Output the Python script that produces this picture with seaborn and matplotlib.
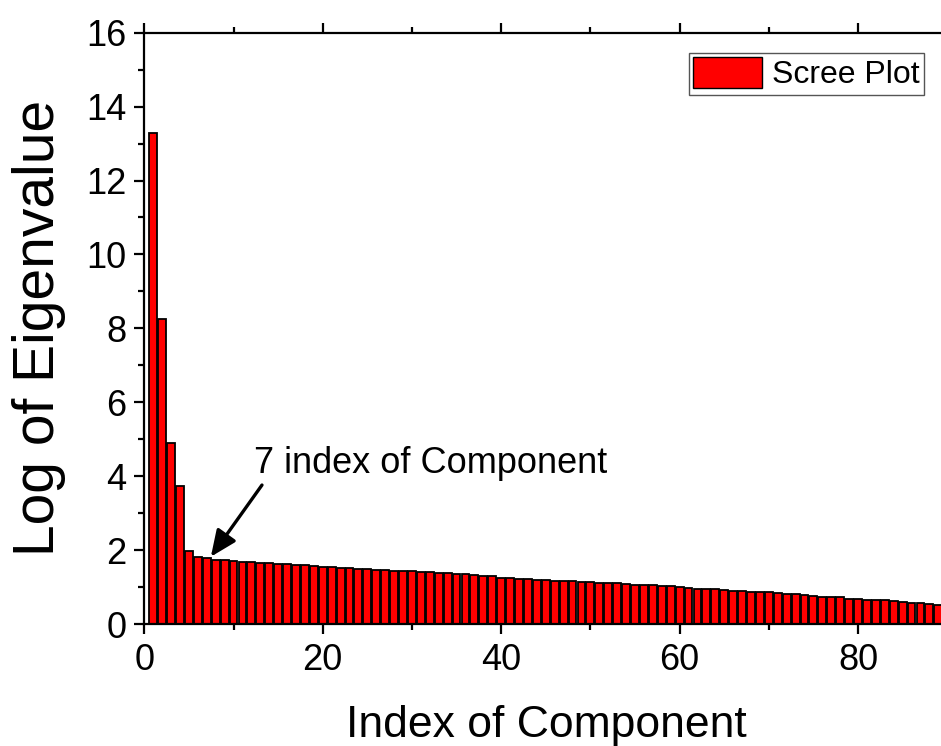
import matplotlib
matplotlib.use("Agg")
import matplotlib.pyplot as plt
from matplotlib.patches import Patch
import seaborn as sns
import pandas as pd

# ---- data ----
component_index = list(range(1, 90))
log_eigenvalue = [
    13.29, 8.24, 4.91, 3.74, 1.97, 1.81, 1.78, 1.74, 1.72, 1.71,
    1.69, 1.67, 1.65, 1.64, 1.63, 1.62, 1.60, 1.59, 1.57, 1.55,
    1.54, 1.52, 1.51, 1.50, 1.48, 1.47, 1.47, 1.44, 1.44, 1.43,
    1.42, 1.40, 1.38, 1.37, 1.35, 1.34, 1.32, 1.30, 1.29, 1.25,
    1.24, 1.22, 1.22, 1.20, 1.19, 1.17, 1.16, 1.16, 1.15, 1.14,
    1.12, 1.11, 1.10, 1.07, 1.06, 1.06, 1.05, 1.04, 1.03, 1.00,
    0.97, 0.96, 0.95, 0.94, 0.92, 0.90, 0.88, 0.87, 0.87, 0.86,
    0.83, 0.81, 0.80, 0.78, 0.76, 0.74, 0.73, 0.72, 0.69, 0.67,
    0.66, 0.65, 0.64, 0.62, 0.60, 0.57, 0.56, 0.53, 0.51,
]
series_label = "Scree Plot"
x_label = "Index of Component"
y_label = "Log of Eigenvalue"
annotation_text = "7 index of Component"
x_ticks = [0, 20, 40, 60, 80]
y_ticks = [0, 2, 4, 6, 8, 10, 12, 14, 16]

df = pd.DataFrame({"idx": component_index, "val": log_eigenvalue})

sns.set_style("ticks")
plt.rcParams["font.family"] = ["Liberation Sans", "DejaVu Sans"]
plt.rcParams["text.color"] = "black"
plt.rcParams["axes.labelcolor"] = "black"
plt.rcParams["xtick.color"] = "black"
plt.rcParams["ytick.color"] = "black"

W, H = 941, 746
fig = plt.figure(figsize=(W / 100, H / 100), dpi=100)
ax = fig.add_axes([144.3 / W, 1 - 624 / H, 1 - 144.3 / W, (624 - 32.7) / H])

sns.barplot(data=df, x="idx", y="val", native_scale=True, width=0.88,
            color="#ff0000", saturation=1, edgecolor="black", linewidth=1.3,
            ax=ax, legend=False)

ax.set_xlim(0, 89.3)
ax.set_ylim(0, 16)
ax.set_xticks(x_ticks)
ax.set_xticks([10, 30, 50, 70], minor=True)
ax.set_yticks(y_ticks)
ax.set_yticks(list(range(1, 16, 2)), minor=True)

for s in ["left", "bottom", "top"]:
    ax.spines[s].set_linewidth(1.6)
    ax.spines[s].set_color("black")
ax.spines["right"].set_visible(False)

ax.tick_params(axis="both", which="major", direction="out", length=7, width=1.6,
               labelsize=26, labelcolor="black")
ax.tick_params(axis="both", which="minor", direction="out", length=4, width=1.6)
ax.tick_params(axis="x", which="major", pad=7)
ax.tick_params(axis="y", which="major", pad=6)
ax.tick_params(axis="x", which="both", top=True, labeltop=False)

ax.set_xlabel(x_label, fontsize=32)
ax.set_ylabel(y_label, fontsize=41)
ax.xaxis.set_label_coords(0.505, -(736.7 - 624) / (624 - 32.7))
ax.xaxis.label.set_va("baseline")
ax.yaxis.set_label_coords((54 - 144.3) / (W - 144.3), 0.501)
ax.yaxis.label.set_va("baseline")

ax.text(12.3, 4.08, annotation_text, fontsize=26, ha="left", va="baseline")
ax.annotate("", xy=(7.46, 1.82), xytext=(13.19, 3.76),
            arrowprops=dict(arrowstyle="-|>,head_length=0.8,head_width=0.35",
                            lw=2.4, color="black", shrinkA=0, shrinkB=0,
                            mutation_scale=20))

handle = Patch(facecolor="#ff0000", edgecolor="black", linewidth=1.0, label=series_label)
leg = ax.legend(handles=[handle], loc="upper right",
                bbox_to_anchor=(924.3 / W, 1 - 52.7 / H), bbox_transform=fig.transFigure,
                borderaxespad=0, fontsize=23, handlelength=2.16, handleheight=1.08,
                handletextpad=0.3, borderpad=0.15, fancybox=False, framealpha=1)
leg.get_frame().set_edgecolor("#555555")
leg.get_frame().set_linewidth(1.0)

fig.savefig("out.png", dpi=100)
